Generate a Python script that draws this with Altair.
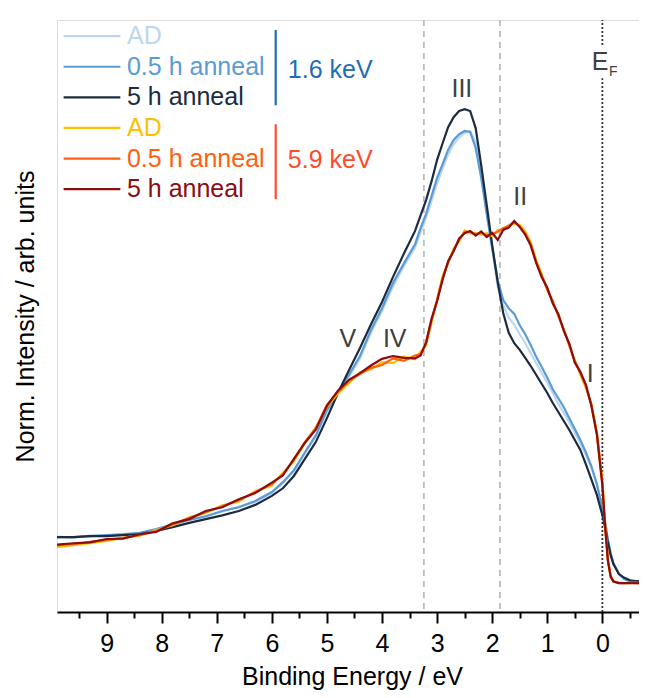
import altair as alt
import pandas as pd

# Binding energy grid (eV)
energy = [9.9, 9.6, 9.3, 9.0, 8.7, 8.4, 8.1, 7.8, 7.5, 7.2, 6.9, 6.6, 6.3, 6.0,
          5.8, 5.6, 5.4, 5.2, 5.0, 4.8, 4.6, 4.4, 4.2, 4.0, 3.8, 3.6, 3.4,
          3.3, 3.2, 3.1, 3.0, 2.9, 2.8, 2.7, 2.6, 2.5, 2.4, 2.3, 2.2, 2.1, 2.0,
          1.9, 1.8, 1.7, 1.6, 1.5, 1.4, 1.3, 1.2, 1.1, 1.0, 0.9, 0.8, 0.7, 0.6,
          0.5, 0.4, 0.3, 0.2, 0.1, 0.0,
          -0.05, -0.1, -0.15, -0.2,
          -0.3, -0.4, -0.5, -0.6, -0.7, -0.81]

# 1.6 keV
ad_16 = [9.8, 9.6, 10.0, 10.0, 10.4, 10.5, 11.3, 12.3, 13.4, 14.0, 15.1, 16.1, 17.1, 19.0,
         21.1, 23.6, 27.3, 31.0, 36.2, 40.2, 43.5, 47.4, 52.9, 57.4, 62.6, 66.9, 70.8,
         74.0, 77.1, 80.7, 84.3, 87.5, 90.4, 92.6, 94.0, 95.0, 95.3, 93.0, 86.5, 78.5, 70.5,
         62.5, 58.6, 56.0, 54.5, 52.5, 50.6, 48.5, 46.4, 44.3, 42.2, 40.1, 37.8, 35.9, 33.8,
         31.7, 29.5, 27.0, 24.3, 20.7, 15.8,
         12.8, 9.2, 6.4, 4.3,
         2.0, 0.9, 0.5, 0.3, 0.3, 0.3]
h05_16 = [9.7, 9.7, 9.9, 10.1, 10.3, 10.6, 11.4, 12.4, 13.3, 14.1, 15.2, 16.0, 17.3, 19.2,
          21.3, 23.8, 27.6, 31.2, 36.5, 40.5, 43.9, 47.9, 53.4, 58.0, 63.3, 67.5, 71.5,
          74.9, 77.9, 81.7, 85.5, 88.4, 91.4, 93.5, 94.7, 95.4, 95.2, 91.8, 85.5, 77.9, 70.7,
          63.9, 59.7, 58.0, 56.8, 54.4, 52.5, 50.2, 47.7, 45.6, 43.3, 40.9, 39.0, 37.1, 34.8,
          32.5, 30.2, 27.6, 24.7, 20.9, 15.8,
          12.9, 9.1, 6.3, 4.2,
          1.9, 0.8, 0.4, 0.2, 0.2, 0.2]
h5_16 = [9.7, 9.7, 9.9, 9.9, 10.1, 10.3, 11.0, 11.8, 12.7, 13.5, 14.3, 15.2, 16.5, 18.4,
         20.0, 22.6, 26.2, 29.8, 34.8, 40.1, 44.9, 49.6, 54.6, 59.3, 64.6, 69.6, 74.3,
         77.6, 80.8, 84.8, 89.3, 92.8, 96.2, 98.3, 99.6, 100.0, 99.6, 96.0, 88.2, 79.8, 71.3,
         63.5, 57.0, 52.8, 50.6, 49.2, 47.5, 45.8, 43.9, 42.0, 40.1, 38.0, 36.1, 34.2, 32.3,
         30.2, 28.1, 25.1, 21.9, 18.6, 14.3,
         11.8, 8.6, 5.9, 4.0,
         1.9, 1.1, 0.6, 0.4, 0.4, 0.4]

# 5.9 keV
ad_59 = [7.6, 8.0, 8.4, 8.9, 9.6, 10.0, 11.2, 12.2, 13.9, 14.8, 16.4, 17.2, 19.4, 20.6,
         23.3, 25.7, 29.5, 32.9, 37.2, 40.0, 42.2, 44.5, 45.1, 46.6, 46.4, 47.8, 47.2,
         48.8, 50.2, 55.0, 59.9, 64.8, 67.4, 70.6, 72.1, 74.4, 73.8, 73.9, 73.5, 73.8, 73.2,
         74.5, 74.6, 75.6, 75.8, 75.6, 74.2, 71.9, 68.1, 65.2, 61.8, 59.6, 56.2, 53.6, 50.0,
         47.0, 44.0, 41.2, 37.9, 31.9, 21.5,
         12.4, 5.2, 1.6, 0.4,
         0.1, 0.0, 0.0, 0.1, 0.0, 0.0]
h05_59 = [8.0, 8.2, 8.7, 9.1, 9.5, 10.1, 11.0, 12.4, 13.7, 15.0, 16.2, 17.5, 19.2, 20.9,
          23.0, 26.0, 29.8, 32.7, 37.6, 40.3, 42.6, 44.1, 45.4, 46.0, 47.4, 46.9, 48.0,
          48.3, 50.6, 55.5, 59.7, 64.4, 67.7, 70.3, 72.4, 74.1, 74.1, 73.6, 73.9, 73.4, 73.6,
          74.1, 74.9, 75.3, 76.2, 75.3, 73.8, 71.5, 67.7, 64.8, 62.0, 59.3, 56.5, 53.4, 50.2,
          46.8, 44.3, 41.6, 37.6, 31.7, 21.1,
          12.2, 4.9, 1.5, 0.4,
          0.0, 0.0, 0.1, 0.0, 0.0, 0.1]
h5_59 = [8.1, 8.4, 8.6, 9.3, 9.4, 10.3, 10.8, 12.6, 13.5, 15.2, 16.0, 17.7, 19.0, 21.2,
         22.7, 26.2, 29.6, 32.4, 37.4, 40.6, 42.9, 44.3, 45.9, 47.3, 47.9, 47.5, 47.4,
         48.0, 50.8, 55.8, 59.5, 64.0, 67.9, 70.0, 72.7, 73.8, 74.3, 73.3, 74.2, 73.0, 73.9,
         72.4, 74.5, 75.0, 76.4, 75.1, 73.5, 71.2, 67.5, 64.5, 62.3, 59.0, 56.8, 53.2, 50.5,
         46.5, 44.6, 41.9, 37.4, 31.3, 20.6,
         11.8, 4.7, 1.3, 0.3,
         0.0, 0.0, 0.0, 0.0, 0.0, 0.0]

series_labels = ["AD", "0.5 h anneal", "5 h anneal", "AD", "0.5 h anneal", "5 h anneal"]
series_values = [ad_16, h05_16, h5_16, ad_59, h05_59, h5_59]
series_colors = ["#BDD7EE", "#5B9BD5", "#1C2B3F", "#FFC000", "#FF5F0F", "#8C0D0D"]

group_labels = ["1.6 keV", "5.9 keV"]
group_colors = ["#1F6DB8", "#FF4A2D"]

peak_labels = ["V", "IV", "III", "II", "I"]
peak_energy = [4.62, 3.77, 2.55, 1.49, 0.22]
peak_intensity = [51.6, 51.6, 104.2, 81.5, 44.1]

marker_lines = [3.24, 1.86]
fermi_level = 0.0

FONT = "Liberation Sans"
xscale = alt.Scale(domain=[9.9, -0.81], nice=False, zero=False)
yscale = alt.Scale(domain=[-6.1, 118.8], nice=False, zero=False)

tick_vals = [9.5, 9, 8.5, 8, 7.5, 7, 6.5, 6, 5.5, 5, 4.5, 4, 3.5, 3, 2.5, 2, 1.5, 1, 0.5, 0, -0.5]
xaxis = alt.Axis(
    values=tick_vals,
    labelExpr="datum.value % 1 === 0 ? format(datum.value, 'd') : ''",
    tickSize={"condition": {"test": "datum.value % 1 === 0", "value": 11}, "value": 6},
    tickWidth=2, tickColor="black", domainWidth=2, domainColor="black",
    labelFontSize=25, labelColor="black", labelFont=FONT, labelPadding=8,
    labelFlush=False, labelOverlap=False,
    grid=False, title="Binding Energy / eV", titleFontSize=25, titleFont=FONT,
    titleFontWeight="normal", titleColor="black", titleY=72, titleBaseline="alphabetic",
)
yaxis = alt.Axis(
    labels=False, ticks=False, domain=False, grid=False,
    title="Norm. Intensity / arb. units", titleFontSize=25, titleFont=FONT,
    titleFontWeight="normal", titleColor="black", titleX=-24, titleBaseline="alphabetic",
)

def X(field):
    return alt.X(f"{field}:Q", scale=xscale, axis=xaxis)

def Y(field):
    return alt.Y(f"{field}:Q", scale=yscale, axis=yaxis)

layers = []

# dashed guide lines
df_marks = pd.DataFrame({"E": marker_lines})
layers.append(alt.Chart(df_marks).mark_rule(color="#BDBDBD", strokeWidth=1.8, strokeDash=[6, 5]).encode(x=X("E")))

# Fermi level dotted line (broken around label)
df_ef = pd.DataFrame({"E": [fermi_level, fermi_level], "y1": [-6.1, 113.5], "y2": [106.5, 118.8]})
layers.append(alt.Chart(df_ef).mark_rule(color="#333333", strokeWidth=1.8, strokeDash=[2, 2]).encode(
    x=X("E"), y=Y("y1"), y2="y2"))

# spectra
for lab, vals, col in zip(series_labels, series_values, series_colors):
    df = pd.DataFrame({"E": energy, "I": vals})
    layers.append(alt.Chart(df).mark_line(color=col, strokeWidth=2.2, clip=True).encode(
        x=X("E"), y=Y("I"), order="idx:Q").transform_window(idx="row_number()"))

# peak labels
df_pk = pd.DataFrame({"E": peak_energy, "I": peak_intensity, "t": peak_labels})
layers.append(alt.Chart(df_pk).mark_text(fontSize=25, font=FONT, color="#404040",
                                         align="center", baseline="middle").encode(
    x=X("E"), y=Y("I"), text="t:N"))

# E_F label
df_e = pd.DataFrame({"E": [0.04], "I": [110.0], "t": ["E"]})
layers.append(alt.Chart(df_e).mark_text(fontSize=25, font=FONT, color="#404040",
                                        align="center", baseline="middle").encode(
    x=X("E"), y=Y("I"), text="t:N"))
df_f = pd.DataFrame({"E": [-0.2], "I": [107.8], "t": ["F"]})
layers.append(alt.Chart(df_f).mark_text(fontSize=14, font=FONT, color="#404040",
                                        align="center", baseline="middle").encode(
    x=X("E"), y=Y("I"), text="t:N"))

# custom legend
row_y = [115.4 - 6.46 * i for i in range(6)]
df_leg = pd.DataFrame({
    "x1": [9.78] * 6, "x2": [8.75] * 6, "xt": [8.63] * 6,
    "y": row_y, "t": series_labels, "c": series_colors,
})
layers.append(alt.Chart(df_leg).mark_rule(strokeWidth=2.2).encode(
    x=X("x1"), x2="x2", y=Y("y"), color=alt.Color("c:N", scale=None)))
layers.append(alt.Chart(df_leg).mark_text(fontSize=25, font=FONT, align="left", baseline="middle").encode(
    x=X("xt"), y=Y("y"), text="t:N", color=alt.Color("c:N", scale=None)))

df_br = pd.DataFrame({"x": [5.93, 5.93], "y1": [116.7, 96.8], "y2": [100.8, 81.0],
                      "xt": [5.71, 5.71], "yt": [108.2, 89.2],
                      "t": group_labels, "c": group_colors})
layers.append(alt.Chart(df_br).mark_rule(strokeWidth=2.2).encode(
    x=X("x"), y=Y("y1"), y2="y2", color=alt.Color("c:N", scale=None)))
layers.append(alt.Chart(df_br).mark_text(fontSize=25, font=FONT, align="left", baseline="middle").encode(
    x=X("xt"), y=Y("yt"), text="t:N", color=alt.Color("c:N", scale=None)))

chart = alt.layer(*layers).properties(
    width=590, height=592,
    autosize=alt.AutoSizeParams(type="none"),
    padding={"left": 49, "top": 12, "right": -8, "bottom": 78},
).configure_view(stroke="black", strokeWidth=2).configure(font=FONT)

chart.save("out.html", embed_options={"renderer": "svg", "actions": False})
